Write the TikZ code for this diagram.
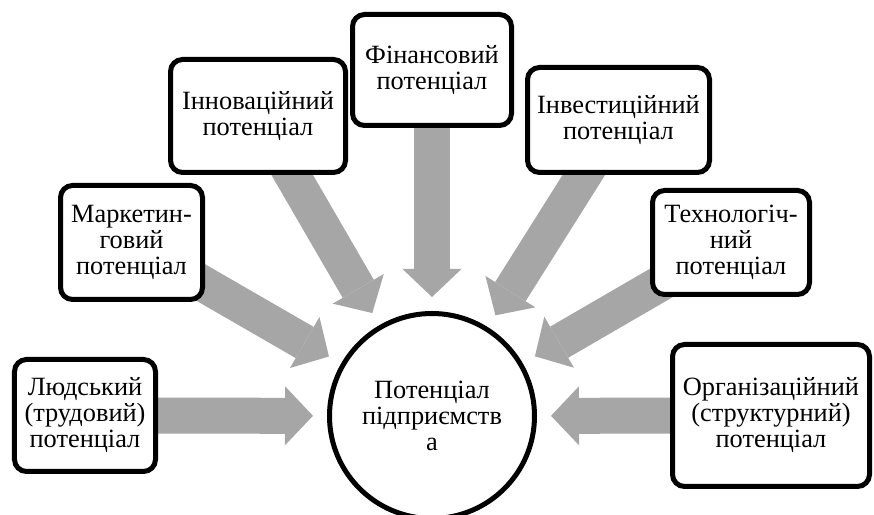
\documentclass[tikz,border=0pt]{standalone}
\usepackage{fontspec}
\setmainfont{Liberation Serif}
\usetikzlibrary{arrows.meta,backgrounds}
\definecolor{arrowgray}{RGB}{166,166,166}

\begin{document}
\begin{tikzpicture}[
  potbox/.style={draw,line width=0.1cm,rounded corners=0.24cm,fill=white,align=center,inner sep=0pt},
  flow/.style={arrowgray,line width=0.72cm,shorten >=0.28cm,-{Triangle[length=0.56cm,width=1.18cm,line width=0pt]}},
  font=\fontsize{15}{14.8}\selectfont]
\useasboundingbox (0,0) rectangle (17.48,10.3);
% centre
\node[draw,circle,line width=0.1cm,fill=white,minimum size=4.1cm,inner sep=0pt,align=center] (hub) at (8.64,1.98)
  {Потенціал\\підприємств\\а};
% the seven potentials
\node[potbox,minimum width=2.82cm,minimum height=2.24cm] (lud) at (1.70,1.99) {Людський\\(трудовий)\\потенціал};
\node[potbox,minimum width=2.84cm,minimum height=2.28cm] (mark) at (2.63,5.45) {Маркетин-\\говий\\потенціал};
\node[potbox,minimum width=3.50cm,minimum height=2.26cm] (inno) at (5.16,7.98) {Інноваційний\\потенціал};
\node[potbox,minimum width=3.18cm,minimum height=2.22cm] (fin) at (8.64,8.90) {Фінансовий\\потенціал};
\node[potbox,minimum width=3.64cm,minimum height=2.10cm] (inv) at (12.37,7.90) {Інвестиційний\\потенціал};
\node[potbox,minimum width=3.14cm,minimum height=2.08cm] (tech) at (14.62,5.45) {Технологіч-\\ний\\потенціал};
\node[potbox,minimum width=3.94cm,minimum height=2.84cm] (org) at (15.42,1.99) {Організаційний\\(структурний)\\потенціал};
\begin{pgfonlayer}{background}
  \foreach \src in {lud,mark,inno,fin,inv,tech,org}
    \draw[flow] (\src.center) -- (hub);
\end{pgfonlayer}
\end{tikzpicture}
\end{document}
